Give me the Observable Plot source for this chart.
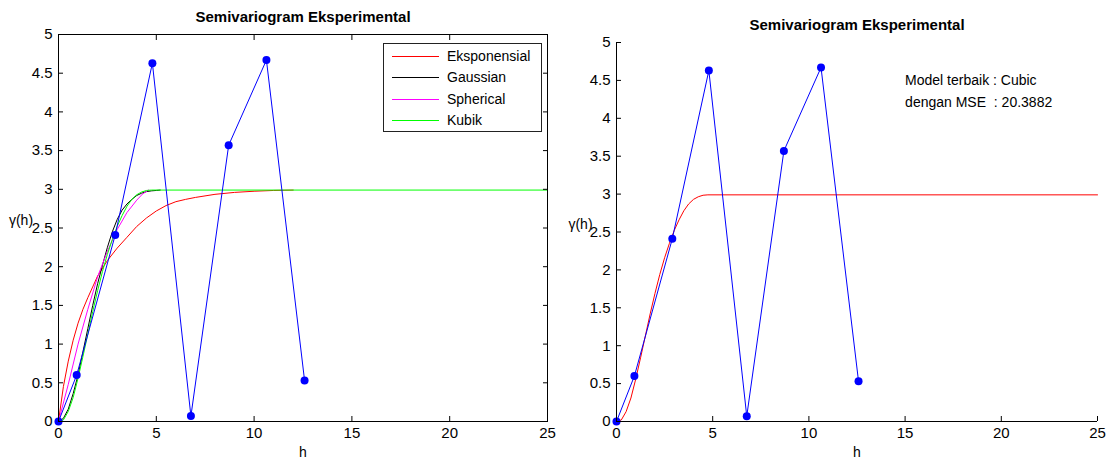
<!DOCTYPE html>
<html>
<head>
<meta charset="utf-8">
<script src="https://cdn.jsdelivr.net/npm/d3@7"></script>
<script src="https://cdn.jsdelivr.net/npm/@observablehq/plot@0.6"></script>
<style>
  body { margin: 0; background: #fff; }
  #wrap { position: relative; width: 1106px; height: 459px; overflow: hidden; background: #fff;
          font-family: "Liberation Sans", Arial, sans-serif; }
  .panel { position: absolute; top: 0; }
  .legend { position: absolute; left: 383px; top: 43px; width: 159px; height: 89px; box-sizing: border-box;
            border: 1px solid #222; background: #fff; font-size: 14px; color: #000; }
  .legend .row { position: absolute; left: 0; height: 18px; width: 100%; }
  .legend .sw { position: absolute; left: 8px; top: 9px; width: 47px; height: 1px; }
  .legend .lb { position: absolute; left: 63px; top: 0; line-height: 18px; white-space: nowrap; }
</style>
</head>
<body>
<div id="wrap"></div>
<script>
// ---- data ----
const titleText = "Semivariogram Eksperimental";
const xLabel = "h";
const yLabel = "γ(h)";
const xTicks = [0, 5, 10, 15, 20, 25];
const yTicks = [0, 0.5, 1, 1.5, 2, 2.5, 3, 3.5, 4, 4.5, 5];

// experimental semivariogram (blue)
const obsH = [0, 0.93, 2.9, 4.8, 6.77, 8.7, 10.63, 12.58];
const obsG = [0, 0.6, 2.41, 4.63, 0.07, 3.57, 4.67, 0.53];

// Eksponensial model (red)
const expH = [0, 0.25, 0.5, 0.75, 1, 1.25, 1.5, 2, 2.5, 3, 3.5, 4, 4.5, 5, 5.5, 6, 6.5, 7, 8, 9, 10, 11, 12];
const expG = [0, 0.45, 0.78, 1.05, 1.27, 1.45, 1.6, 1.88, 2.08, 2.24, 2.38, 2.52, 2.63, 2.72, 2.79, 2.84, 2.87, 2.895, 2.935, 2.96, 2.975, 2.985, 2.99];

// Gaussian model (black)
const gauH = [0, 0.25, 0.5, 0.75, 1, 1.25, 1.5, 1.75, 2, 2.25, 2.5, 2.75, 3, 3.25, 3.5, 3.75, 4, 4.25, 4.5, 4.75, 5, 5.2];
const gauG = [0, 0.04, 0.16, 0.36, 0.6, 0.9, 1.2, 1.5, 1.78, 2.02, 2.25, 2.45, 2.61, 2.73, 2.81, 2.87, 2.92, 2.95, 2.97, 2.98, 2.985, 2.99];

// Spherical model (magenta)
const sphH = [0, 0.5, 1, 1.5, 2, 2.5, 3, 3.5, 4, 4.3, 4.6];
const sphG = [0, 0.48, 1.0, 1.45, 1.87, 2.2, 2.48, 2.7, 2.86, 2.94, 2.99];

// Kubik / Cubic model (green on the left, red on the right)
const cubH = [0, 0.25, 0.5, 0.75, 1, 1.25, 1.5, 1.75, 2, 2.25, 2.5, 2.75, 3, 3.25, 3.5, 3.75, 4, 4.25, 4.5, 4.75, 25];
const cubG = [0, 0.02, 0.13, 0.31, 0.56, 0.84, 1.13, 1.42, 1.69, 1.94, 2.16, 2.35, 2.52, 2.66, 2.78, 2.87, 2.93, 2.965, 2.985, 2.99, 2.99];

const seriesNames = ["Eksponensial", "Gaussian", "Spherical", "Kubik"];
const seriesColors = ["#ff0000", "#000000", "#ff00ff", "#00ff00"];
const obsColor = "#0000ff";
const bestColor = "#ff0000";

const annotLines = ["Model terbaik : Cubic", "dengan MSE  : 20.3882"];
const annotX = [15, 15];
const annotY = [4.5, 4.21];

// ---- build tables ----
const toRows = (H, G) => H.map((h, i) => ({h, g: G[i]}));
const obs = toRows(obsH, obsG);
const models = [toRows(expH, expG), toRows(gauH, gauG), toRows(sphH, sphG), toRows(cubH, cubG)];
const annot = annotLines.map((t, i) => ({t, x: annotX[i], y: annotY[i]}));

const FONT = '"Liberation Sans", Arial, sans-serif';
const fmt = d => String(d);

function axes(withBox) {
  const m = [
    Plot.axisX({ticks: xTicks, tickSize: -5, tickPadding: 11, tickFormat: fmt, label: null, fontSize: 15}),
    Plot.axisY({ticks: yTicks, tickSize: -5, tickPadding: 11, tickFormat: fmt, label: null, fontSize: 15})
  ];
  if (withBox) {
    m.push(Plot.axisX({anchor: "top", ticks: xTicks, tickSize: -5, tickFormat: () => "", label: null}));
    m.push(Plot.axisY({anchor: "right", ticks: yTicks, tickSize: -5, tickFormat: () => "", label: null}));
  }
  return m;
}

function labels(yDx) {
  return [
    Plot.text([titleText], {frameAnchor: "top", dy: -17, lineAnchor: "middle", textAnchor: "middle", fontWeight: "bold", fontSize: 15}),
    Plot.text([xLabel], {frameAnchor: "bottom", dy: 31, lineAnchor: "middle", textAnchor: "middle", fontSize: 14}),
    Plot.text([yLabel], {frameAnchor: "left", dx: yDx, dy: -7, lineAnchor: "middle", textAnchor: "middle", fontSize: 14})
  ];
}

// ---- left panel ----
const left = Plot.plot({
  width: 560, height: 459,
  marginLeft: 58, marginRight: 13, marginTop: 34, marginBottom: 38,
  x: {domain: [0, 25]}, y: {domain: [0, 5]},
  style: {fontFamily: FONT, fontSize: "14px", color: "#000", background: "transparent", overflow: "visible"},
  marks: [
    ...models.map((rows, i) => Plot.line(rows, {x: "h", y: "g", stroke: seriesColors[i], strokeWidth: 1})),
    Plot.line(obs, {x: "h", y: "g", stroke: obsColor, strokeWidth: 1}),
    Plot.dot(obs, {x: "h", y: "g", fill: obsColor, r: 4}),
    Plot.frame({stroke: "#000"}),
    ...axes(true),
    ...labels(-37.5)
  ]
});

// ---- right panel ----
const right = Plot.plot({
  width: 546, height: 459,
  marginLeft: 56, marginRight: 9, marginTop: 42, marginBottom: 38,
  x: {domain: [0, 25]}, y: {domain: [0, 5]},
  style: {fontFamily: FONT, fontSize: "14px", color: "#000", background: "transparent", overflow: "visible", whiteSpace: "pre"},
  marks: [
    Plot.line(models[3], {x: "h", y: "g", stroke: bestColor, strokeWidth: 1}),
    Plot.line(obs, {x: "h", y: "g", stroke: obsColor, strokeWidth: 1}),
    Plot.dot(obs, {x: "h", y: "g", fill: obsColor, r: 4}),
    Plot.ruleX([0], {stroke: "#000"}),
    Plot.ruleY([0], {stroke: "#000"}),
    ...axes(false),
    ...labels(-36),
    Plot.text(annot, {x: "x", y: "y", text: "t", textAnchor: "start", fontSize: 14})
  ]
});

const wrap = document.getElementById("wrap");
left.classList.add("panel"); left.style.left = "0px";
right.classList.add("panel"); right.style.left = "560px";
wrap.appendChild(left);
wrap.appendChild(right);

// legend (HTML, over the left panel)
const lg = document.createElement("div");
lg.className = "legend";
seriesNames.forEach((name, i) => {
  const row = document.createElement("div");
  row.className = "row";
  row.style.top = (3 + i * 21.3) + "px";
  const sw = document.createElement("div");
  sw.className = "sw"; sw.style.backgroundColor = seriesColors[i];
  const lb = document.createElement("span");
  lb.className = "lb"; lb.textContent = name;
  row.appendChild(sw); row.appendChild(lb);
  lg.appendChild(row);
});
wrap.appendChild(lg);
</script>
</body>
</html>
